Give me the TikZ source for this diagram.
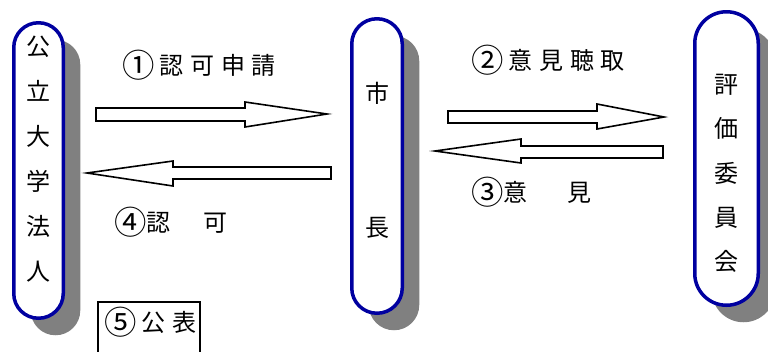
\documentclass[tikz,border=0pt]{standalone}
\usepackage{fontspec}
\newfontfamily\jp{Noto Sans CJK JP}
\newfontfamily\jpwide[LetterSpace=28]{Noto Sans CJK JP}
\newcommand{\circnum}[1]{\raisebox{-3.2pt}{\scalebox{1.35}{#1}}}
\usetikzlibrary{shadows}
\definecolor{pillblue}{RGB}{0,0,160}
\definecolor{shadowgray}{RGB}{128,128,128}
\tikzset{
  pill/.style={draw=pillblue, line width=3.5pt, fill=white,
    drop shadow={shadow xshift=17pt, shadow yshift=-17pt, fill=shadowgray, opacity=1}},
  blockarrow/.style={draw=black, line width=1.6pt, fill=white, line join=miter},
  pilltext/.style={align=center, inner sep=0pt},
  label/.style={anchor=west, inner sep=0pt}
}

\begin{document}
\begin{tikzpicture}[x=1pt,y=-1pt]
\useasboundingbox (0,0) rectangle (768,351);

\node[pill, rounded corners=24.7pt, minimum width=49.5pt, minimum height=295.5pt] (univ) at (38.5,170.5) {};
\node[pill, rounded corners=25.2pt, minimum width=50.5pt, minimum height=294.5pt] (mayor) at (377,166) {};
\node[pill, rounded corners=31.7pt, minimum width=63.5pt, minimum height=293.5pt] (board) at (726.5,158.5) {};

\node[pilltext, font=\jp\fontsize{24}{45}\selectfont] (univtext) at (38,159.5) {公\\立\\大\\学\\法\\人};
\node[pilltext, font=\jp\fontsize{24}{134}\selectfont] (mayortext) at (377,160) {市\\長};
\node[pilltext, font=\jp\fontsize{24}{44.25}\selectfont] (boardtext) at (726,173.5) {評\\価\\委\\員\\会};

\draw[blockarrow] (96,108) -- (245,108) -- (245,102) -- (327,114) -- (245,127) -- (245,121) -- (96,121) -- cycle;
\draw[blockarrow] (331,167) -- (173,167) -- (173,161) -- (87,173) -- (173,186) -- (173,179) -- (331,179) -- cycle;
\draw[blockarrow] (448,111) -- (597,111) -- (597,104) -- (664,117) -- (597,129) -- (597,123) -- (448,123) -- cycle;
\draw[blockarrow] (663,146) -- (521,146) -- (521,139) -- (435,151) -- (521,163) -- (521,158) -- (663,158) -- cycle;

\node[label, font=\jpwide\fontsize{24}{24}\selectfont] (apply) at (122,65) {\circnum{①}\hspace{5pt}認可申請};
\node[label, font=\jpwide\fontsize{24}{24}\selectfont] (hearing) at (471,60) {\circnum{②}\hspace{5pt}意見聴取};
\node[label, font=\jp\fontsize{24}{24}\selectfont] (opinion) at (471,192) {\circnum{③}意\hspace{40pt}見};
\node[label, font=\jp\fontsize{24}{24}\selectfont] (approval) at (114,222) {\circnum{④}認\hspace{33pt}可};

\draw[line width=1.6pt] (98,365) -- (98,302) -- (200,302) -- (200,365);
\node[label, font=\jpwide\fontsize{24}{24}\selectfont] (publish) at (104,322) {\circnum{⑤}\hspace{5pt}公表};
\end{tikzpicture}
\end{document}
